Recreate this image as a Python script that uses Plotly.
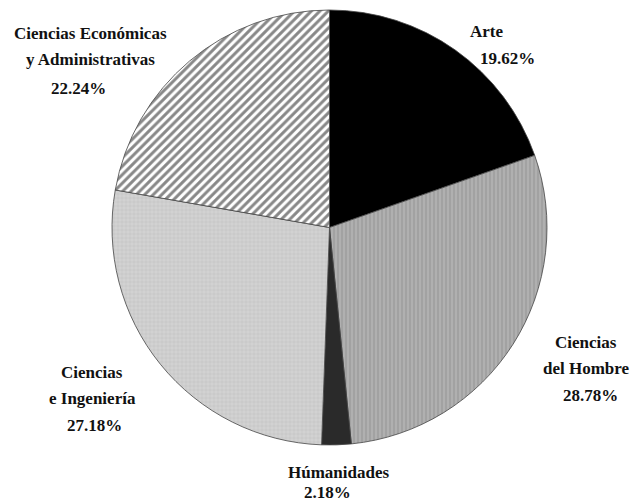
import plotly.graph_objects as go

# Data
categories = ["Arte", "Ciencias del Hombre", "Húmanidades", "Ciencias e Ingeniería",
              "Ciencias Económicas y Administrativas"]
label_lines = [["Arte"], ["Ciencias", "del Hombre"], ["Húmanidades"],
               ["Ciencias", "e Ingeniería"], ["Ciencias Económicas", "y Administrativas"]]
values = [19.62, 28.78, 2.18, 27.18, 22.24]

# Styles
fill_colors = ["#000000", "#b0b0b0", "#2a2a2a", "#d2d2d2", "#ffffff"]
pattern_shapes = ["", "|", "", "+", "/"]
pattern_fg = ["#000000", "#808080", "#2a2a2a", "#a8a8a8", "#111111"]
pattern_size = [6, 4, 6, 4, 6]
pattern_sol = [0.3, 0.3, 0.3, 0.2, 0.5]

W, H = 634, 503
cx, cy, r = 329.5, 227.5, 217.5

fig = go.Figure(go.Pie(
    labels=categories,
    values=values,
    sort=False,
    direction="clockwise",
    rotation=0,
    textinfo="none",
    hoverinfo="label+value",
    showlegend=False,
    marker=dict(
        colors=fill_colors,
        line=dict(color="#444444", width=0.8),
        pattern=dict(shape=pattern_shapes, fgcolor=pattern_fg, bgcolor=fill_colors,
                     size=pattern_size, solidity=pattern_sol, fillmode="overlay"),
    ),
    domain=dict(x=[(cx - r) / W, (cx + r) / W], y=[1 - (cy + r) / H, 1 - (cy - r) / H]),
))

# Label line positions (pixel centres) per category: name lines then percent line
line_pos = [
    [(486, 31), (507, 58)],
    [(586, 342), (586, 368), (590, 395)],
    [(338, 472), (327, 492)],
    [(92, 372), (92, 398), (94, 425)],
    [(90, 34), (90, 60), (78, 88)],
]

font = dict(family="Liberation Serif, Times New Roman, Times, serif", size=17, color="#111111")
annotations = []
for lines, v, pos in zip(label_lines, values, line_pos):
    texts = [f"<b>{t}</b>" for t in lines] + [f"<b>{v:.2f}%</b>"]
    for t, (px, py) in zip(texts, pos):
        annotations.append(dict(x=px / W, y=1 - py / H, xref="paper", yref="paper",
                                text=t, showarrow=False, xanchor="center",
                                yanchor="middle", font=font))

fig.update_layout(
    width=W, height=H,
    margin=dict(l=0, r=0, t=0, b=0),
    paper_bgcolor="white", plot_bgcolor="white",
    annotations=annotations,
)

fig.write_html("out.html", config={"displayModeBar": False},
               post_script="document.body.style.margin='0';")
